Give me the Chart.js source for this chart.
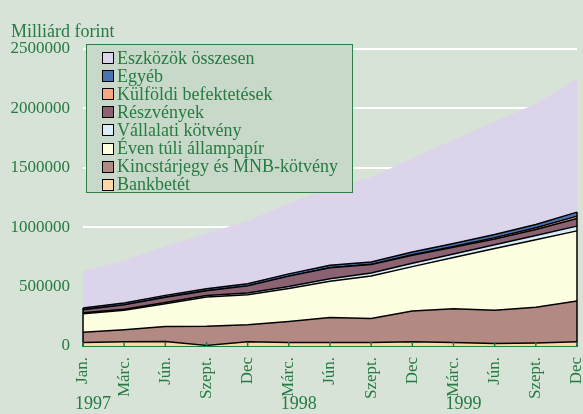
<!DOCTYPE html>
<html>
<head>
<meta charset="utf-8">
<script src="https://cdn.jsdelivr.net/npm/chart.js@4.4.1/dist/chart.umd.min.js"></script>
<style>
  body { margin: 0; background: #d7e3d7; }
  #wrap { position: relative; width: 583px; height: 414px; background: #d7e3d7; }
  #legend {
    position: absolute; left: 86px; top: 44px; width: 267px; height: 149px;
    box-sizing: border-box; border: 1.5px solid #2f7d47; background: #c9d9c9;
    font-family: "Liberation Serif", serif; font-size: 18px; color: #267a43;
    padding-top: 4px;
  }
  .row { height: 18.1px; display: flex; align-items: center; white-space: nowrap; }
  .sw { width: 10px; height: 10px; border: 1px solid #000; margin-left: 15px; margin-right: 3px; flex: none; }
</style>
</head>
<body>
<div id="wrap">
  <canvas id="chart"></canvas>
  <div id="legend"></div>
</div>
<script>
// quarterly data, thousand million forint
var months = ['Jan.', 'Márc.', 'Jún.', 'Szept.', 'Dec', 'Márc.', 'Jún.', 'Szept.', 'Dec', 'Márc.', 'Jún.', 'Szept.', 'Dec'];
var years = ['1997', '1998', '1999'];
var yearAt = [0, 5, 9];   // label index where each year text starts
var yTicks = [0, 500000, 1000000, 1500000, 2000000, 2500000];

var bankbetet  = [30000, 35000, 38000, 5000, 35000, 30000, 30000, 30000, 35000, 30000, 20000, 25000, 35000];
var kincstar   = [86000, 102000, 127000, 162000, 144000, 177000, 210000, 202000, 259000, 284000, 280000, 302000, 343000];
var evenTuli   = [156000, 163000, 191000, 245000, 253000, 276000, 304000, 357000, 374000, 430000, 520000, 567000, 591000];
var vallalati  = [8000, 9000, 10000, 12000, 14000, 18000, 22000, 26000, 28000, 30000, 33000, 36000, 40000];
var reszvenyek = [25000, 37000, 44000, 41000, 60000, 87000, 93000, 71000, 68000, 56000, 48000, 51000, 64000];
var kulfoldi   = [0, 0, 0, 0, 0, 0, 0, 1000, 5000, 8000, 11000, 14000, 20000];
var egyeb      = [14000, 15000, 16000, 17000, 18000, 19000, 20000, 20000, 22000, 24000, 26000, 28000, 34000];
var osszesen   = [630000, 722000, 835000, 949000, 1053000, 1200000, 1330000, 1420000, 1580000, 1737000, 1889000, 2040000, 2250000];

var green = '#267a43';
var serif = 'Liberation Serif';

function part(label, data, color, fill) {
    return {
        label: label, data: data, backgroundColor: color, borderColor: '#000000',
        borderWidth: 1.5, fill: fill, stack: 'parts', pointRadius: 0, tension: 0
    };
}

var datasets = [
    part('Bankbetét', bankbetet, '#fcd8a4', 'origin'),
    part('Kincstárjegy és MNB-kötvény', kincstar, '#b38984', '-1'),
    part('Éven túli állampapír', evenTuli, '#fefee0', '-1'),
    part('Vállalati kötvény', vallalati, '#d8ecfa', '-1'),
    part('Részvények', reszvenyek, '#8a6272', '-1'),
    part('Külföldi befektetések', kulfoldi, '#f6a882', '-1'),
    part('Egyéb', egyeb, '#4a74b0', '-1'),
    {
        label: 'Eszközök összesen', data: osszesen, backgroundColor: '#dcd4ea',
        borderWidth: 0, fill: 'origin', stack: 'total', pointRadius: 0, tension: 0
    }
];

// extra marks: tick marks, edges of stacked block, title and years
var extras = {
    id: 'extras',
    afterDatasetsDraw: function(chart) {
        var ctx = chart.ctx, x = chart.scales.x, y = chart.scales.y;
        var parts = [bankbetet, kincstar, evenTuli, vallalati, reszvenyek, kulfoldi, egyeb];
        var sumAt = function(i) { return parts.reduce(function(s, a) { return s + a[i]; }, 0); };
        ctx.save();
        ctx.strokeStyle = '#000';
        ctx.lineWidth = 1.5;
        [0, months.length - 1].forEach(function(i) {
            var px = x.getPixelForValue(i);
            ctx.beginPath();
            ctx.moveTo(px, y.getPixelForValue(0));
            ctx.lineTo(px, y.getPixelForValue(sumAt(i)));
            ctx.stroke();
        });
        ctx.strokeStyle = green;
        months.forEach(function(m, i) {
            var px = x.getPixelForValue(i);
            ctx.beginPath();
            ctx.moveTo(px, y.bottom);
            ctx.lineTo(px, y.bottom - 4);
            ctx.stroke();
        });
        ctx.restore();
    },
    afterDraw: function(chart) {
        var ctx = chart.ctx, x = chart.scales.x;
        ctx.save();
        ctx.fillStyle = green;
        ctx.font = '18px "' + serif + '"';
        ctx.textBaseline = 'middle';
        ctx.textAlign = 'left';
        ctx.fillText('Milliárd forint', 11, 32);
        years.forEach(function(yr, k) {
            ctx.fillText(yr, x.getPixelForValue(yearAt[k]) - 8, 404);
        });
        ctx.restore();
    }
};

var ctx1 = document.getElementById('chart');
var chart = new Chart(ctx1, {
    type: 'line',
    data: { labels: months, datasets: datasets },
    options: {
        responsive: true,
        maintainAspectRatio: false,
        animation: false,
        layout: { padding: { left: 10, top: 49, right: 6, bottom: 12 } },
        plugins: { legend: { display: false }, tooltip: { enabled: false } },
        scales: {
            x: {
                grid: { display: false },
                border: { color: green, width: 2 },
                ticks: { color: green, font: { family: serif, size: 17 }, minRotation: 90, maxRotation: 90, padding: 3, autoSkip: false },
                afterFit: function(axis) { axis.paddingLeft = 0; axis.paddingRight = 0; }
            },
            y: {
                stacked: true,
                min: 0, max: 2500000,
                afterBuildTicks: function(axis) { axis.ticks = yTicks.map(function(v) { return { value: v }; }); },
                afterFit: function(axis) { axis.width = 73; },
                grid: { color: '#ffffff', lineWidth: 2, drawTicks: false },
                border: { display: false },
                ticks: {
                    color: green, font: { family: serif, size: 17 }, padding: 13,
                    callback: function(v) { return String(v); }
                }
            }
        }
    },
    plugins: [extras]
});

// legend box, top of stack first
var legend = document.getElementById('legend');
datasets.slice().reverse().forEach(function(ds) {
    var row = document.createElement('div');
    row.className = 'row';
    var sw = document.createElement('span');
    sw.className = 'sw';
    sw.style.background = ds.backgroundColor;
    row.appendChild(sw);
    row.appendChild(document.createTextNode(ds.label));
    legend.appendChild(row);
});
</script>
</body>
</html>
